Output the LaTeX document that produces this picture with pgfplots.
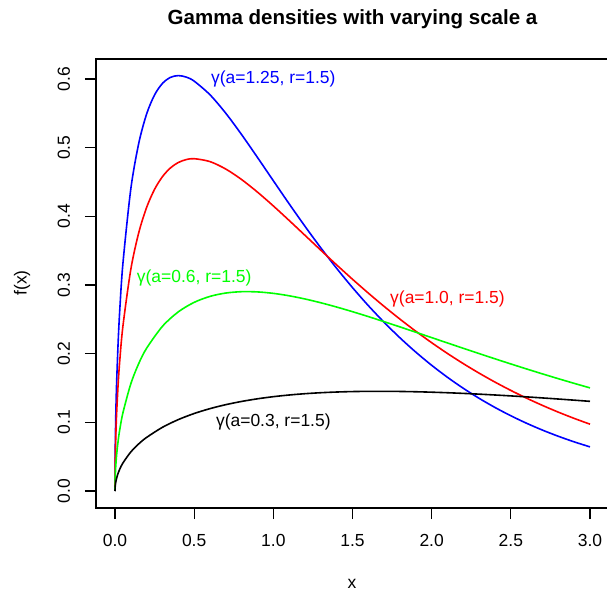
\documentclass[border=0pt]{standalone}
\usepackage{fontspec}
\setmainfont{Liberation Sans}
\usepackage{pgfplots}
\pgfplotsset{compat=1.18}
\definecolor{rblue}{RGB}{0,0,255}
\definecolor{rred}{RGB}{255,0,0}
\definecolor{rgreen}{RGB}{0,255,0}
\newcommand{\basefont}{\fontsize{13.1}{15.5}\selectfont}
\begin{document}
\begin{tikzpicture}[x=0.75pt,y=0.75pt]
\begin{axis}[
  at={(72pt,64.5pt)}, anchor=south west,
  scale only axis, width=384.75pt, height=336.75pt,
  xmin=-0.12, xmax=3.12, ymin=-0.02476, ymax=0.6291,
  xtick={0,0.5,1,1.5,2,2.5,3},
  xticklabels={0.0,0.5,1.0,1.5,2.0,2.5,3.0},
  ytick={0,0.1,0.2,0.3,0.4,0.5,0.6},
  yticklabels={0.0,0.1,0.2,0.3,0.4,0.5,0.6},
  xtick pos=lower, ytick pos=left,
  tick align=outside, major tick length=8.25pt,
  every tick/.style={black, line width=0.8pt},
  axis line style={line width=0.8pt},
  ticklabel style={font=\basefont},
  xticklabel style={anchor=base, yshift=-20.25pt},
  yticklabel style={xshift=-11.25pt, rotate=90, anchor=base},
  clip=false,
  every axis plot/.append style={line width=1.2pt, smooth},
]
\addplot[rblue] coordinates {
(0,0) (0.001,0.04981) (0.002,0.07035) (0.005,0.11081) (0.01,0.15574) (0.02,0.21751) (0.03,0.26308) (0.05,0.33125)
(0.1,0.44008) (0.15,0.50633) (0.2,0.54924) (0.25,0.57686) (0.3,0.59364) (0.35,0.60235) (0.4,0.60493) (0.45,0.60275) (0.5,0.59686)
(0.6,0.57700) (0.7,0.55000) (0.8,0.51888) (0.9,0.48569) (1.0,0.45181) (1.1,0.41818) (1.2,0.38545)
(1.3,0.35405) (1.4,0.32424) (1.5,0.29619) (1.6,0.26995) (1.7,0.24557) (1.8,0.22300) (1.9,0.20219)
(2.0,0.18306) (2.1,0.16554) (2.2,0.14953) (2.3,0.13492) (2.4,0.12163) (2.5,0.10955) (2.6,0.09859)
(2.7,0.08867) (2.8,0.07968) (2.9,0.07157) (3.0,0.06424)};
\addplot[rred] coordinates {
(0,0) (0.001,0.03565) (0.002,0.05036) (0.005,0.07939) (0.01,0.11172) (0.02,0.15642) (0.03,0.18966) (0.05,0.24001)
(0.1,0.32287) (0.15,0.37615) (0.2,0.41315) (0.25,0.43939) (0.3,0.45786) (0.35,0.47042) (0.4,0.47838) (0.45,0.48264) (0.5,0.48394)
(0.6,0.47968) (0.7,0.46881) (0.8,0.45349) (0.9,0.43522) (1.0,0.41511) (1.1,0.39394) (1.2,0.37230)
(1.3,0.35063) (1.4,0.32924) (1.5,0.30836) (1.6,0.28817) (1.7,0.26877) (1.8,0.25024) (1.9,0.23263)
(2.0,0.21596) (2.1,0.20024) (2.2,0.18545) (2.3,0.17157) (2.4,0.15858) (2.5,0.14645) (2.6,0.13514)
(2.7,0.12461) (2.8,0.11482) (2.9,0.10573) (3.0,0.09730)};
\addplot[rgreen] coordinates {
(0,0) (0.001,0.01657) (0.002,0.02342) (0.005,0.03697) (0.01,0.05213) (0.02,0.07328) (0.03,0.08921) (0.05,0.11380)
(0.1,0.15618) (0.15,0.18563) (0.2,0.20801) (0.3,0.23992) (0.4,0.26091) (0.5,0.27471)
(0.6,0.28341) (0.7,0.28829) (0.8,0.29025) (0.9,0.28992) (1.0,0.28781) (1.1,0.28428) (1.2,0.27963)
(1.3,0.27410) (1.4,0.26788) (1.5,0.26114) (1.6,0.25399) (1.7,0.24656) (1.8,0.23894) (1.9,0.23119)
(2.0,0.22338) (2.1,0.21557) (2.2,0.20779) (2.3,0.20009) (2.4,0.19249) (2.5,0.18502) (2.6,0.17769)
(2.7,0.17053) (2.8,0.16355) (2.9,0.15675) (3.0,0.15015)};
\addplot[black] coordinates {
(0,0) (0.001,0.00586) (0.002,0.00829) (0.005,0.01309) (0.01,0.01849) (0.02,0.02606) (0.03,0.03183) (0.05,0.04084)
(0.1,0.05690) (0.15,0.06865) (0.2,0.07809) (0.3,0.09281) (0.4,0.10400) (0.5,0.11284)
(0.6,0.11996) (0.7,0.12574) (0.8,0.13045) (0.9,0.13428) (1.0,0.13736) (1.1,0.13980) (1.2,0.14170)
(1.3,0.14313) (1.4,0.14414) (1.5,0.14480) (1.6,0.14512) (1.7,0.14517) (1.8,0.14496) (1.9,0.14453)
(2.0,0.14390) (2.1,0.14310) (2.2,0.14214) (2.3,0.14104) (2.4,0.13981) (2.5,0.13848) (2.6,0.13705)
(2.7,0.13553) (2.8,0.13394) (2.9,0.13228) (3.0,0.13057)};
\node[font=\basefont, text=rblue, inner sep=0pt] at (axis cs:1.0,0.6) {γ(a=1.25, r=1.5)};
\node[font=\basefont, text=rred, inner sep=0pt] at (axis cs:2.1,0.28) {γ(a=1.0, r=1.5)};
\node[font=\basefont, text=rgreen, inner sep=0pt] at (axis cs:0.5,0.31) {γ(a=0.6, r=1.5)};
\node[font=\basefont, text=black, inner sep=0pt] at (axis cs:1.0,0.1) {γ(a=0.3, r=1.5)};
\end{axis}
\node[font=\fontsize{15.4}{18}\bfseries\selectfont, anchor=base, inner sep=0pt] at (352.5,569) {Gamma densities with varying scale a};
\node[font=\basefont, inner sep=0pt] at (352,10) {x};
\node[font=\basefont, rotate=90, inner sep=0pt] at (22,311) {f(x)};
\pgfresetboundingbox
\useasboundingbox (0,0) rectangle (607,594);
\end{tikzpicture}
\end{document}
